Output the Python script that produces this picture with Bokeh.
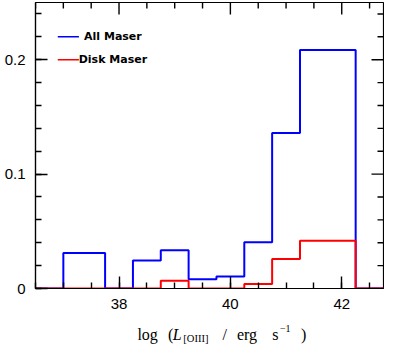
import numpy as np
from bokeh.plotting import figure
from bokeh.layouts import column
from bokeh.models import FixedTicker, Label, Range1d
from bokeh.core.properties import value
from bokeh.embed import file_html
from bokeh.resources import INLINE

# ---- data ----
bin_edges = [36.5, 37.0, 37.75, 38.25, 38.75, 39.25, 39.75, 40.25, 40.75, 41.25, 42.25, 42.75]
all_maser = [0.0, 0.031, 0.0, 0.0245, 0.0335, 0.008, 0.0105, 0.0405, 0.136, 0.2085, 0.0]
disk_maser = [0.0, 0.0, 0.0, 0.0, 0.0067, 0.0, 0.0, 0.004, 0.0258, 0.0417, 0.0]
x_major = [38, 40, 42]
y_major = [0, 0.1, 0.2]
x_tick_labels = ["38", "40", "42"]
y_tick_labels = ["0", "0.1", "0.2"]
legend_names = ["All Maser", "Disk Maser"]
legend_colors = ["#0000ff", "#ff0000"]
legend_levels = [0.22, 0.20]

X0, X1 = 36.5, 42.75
Y0, Y1 = 0.0, 0.25

W = 384
MAIN_H = 318
SUB_H = 26
BL, BR, BT, BB = 35, 1, 2, 30
FRAME_W = W - BL - BR
FRAME_H = MAIN_H - BT - BB

x_range = Range1d(X0, X1)

p = figure(width=W, height=MAIN_H, output_backend="svg", toolbar_location=None,
           x_range=x_range, y_range=Range1d(Y0, Y1),
           min_border_left=BL, min_border_right=BR, min_border_top=BT, min_border_bottom=BB)
p.xgrid.visible = False
p.ygrid.visible = False
p.outline_line_color = "black"
p.outline_line_width = 1.2
p.background_fill_color = "white"
p.border_fill_color = "white"

x_minor = [float(v) for v in np.arange(36.5, 43.0, 0.5)]
y_minor = [float(v) for v in np.arange(0.0, 0.26, 0.02)]
xt = FixedTicker(ticks=x_major, minor_ticks=x_minor)
yt = FixedTicker(ticks=y_major, minor_ticks=y_minor)

for ax, tk, majors, labs in ((p.xaxis[0], xt, x_major, x_tick_labels),
                             (p.yaxis[0], yt, y_major, y_tick_labels)):
    ax.ticker = tk
    ax.major_label_overrides = {v: s for v, s in zip(majors, labs)}
    ax.axis_line_color = "black"
    ax.axis_line_width = 1.2
    ax.major_tick_line_color = "black"
    ax.minor_tick_line_color = "black"
    ax.major_tick_line_width = 1.4
    ax.minor_tick_line_width = 1.4
    ax.major_tick_in = 12
    ax.major_tick_out = 0
    ax.minor_tick_in = 6
    ax.minor_tick_out = 0
    ax.major_label_text_font = "Liberation Sans"
    ax.major_label_text_font_size = "15px"
    ax.major_label_text_color = "black"
    ax.major_label_standoff = 10

# ticks on the top and right frame edges (inward), as short segments
dy_major = 12 * (Y1 - Y0) / FRAME_H
dy_minor = 6 * (Y1 - Y0) / FRAME_H
dx_major = 12 * (X1 - X0) / FRAME_W
dx_minor = 6 * (X1 - X0) / FRAME_W
top_minor = [t for t in x_minor if t not in x_major]
right_minor = [t for t in y_minor if not any(abs(t - m) < 1e-9 for m in y_major)]
tick_kw = dict(line_color="black", line_width=1.4)
p.segment(x0=x_major, x1=x_major, y0=[Y1 - dy_major] * len(x_major),
          y1=[Y1] * len(x_major), **tick_kw)
p.segment(x0=top_minor, x1=top_minor, y0=[Y1 - dy_minor] * len(top_minor),
          y1=[Y1] * len(top_minor), **tick_kw)
p.segment(x0=[X1 - dx_major] * len(y_major), x1=[X1] * len(y_major),
          y0=y_major, y1=y_major, **tick_kw)
p.segment(x0=[X1 - dx_minor] * len(right_minor), x1=[X1] * len(right_minor),
          y0=right_minor, y1=right_minor, **tick_kw)

# histograms
p.step(x=bin_edges, y=all_maser + [all_maser[-1]], mode="after",
       line_color=legend_colors[0], line_width=2)
p.step(x=bin_edges, y=disk_maser + [disk_maser[-1]], mode="after",
       line_color=legend_colors[1], line_width=2)

# legend
p.segment(x0=[36.9, 36.9], x1=[37.28, 37.28], y0=legend_levels, y1=legend_levels,
          line_color=legend_colors, line_width=1.5)
for name, lv in zip(legend_names, legend_levels):
    p.add_layout(Label(x=37.89, y=lv, text=name, text_align="center",
                       text_baseline="middle", text_font="DejaVu Sans",
                       text_font_style="bold", text_font_size="11px",
                       text_color="black"))

# ---- axis title strip (shares the x range so it lines up) ----
q = figure(width=W, height=SUB_H, output_backend="svg", toolbar_location=None,
           x_range=x_range, y_range=Range1d(0, SUB_H),
           x_axis_type=None, y_axis_type=None,
           min_border_left=BL, min_border_right=BR, min_border_top=0, min_border_bottom=0)
q.xgrid.visible = False
q.ygrid.visible = False
q.outline_line_color = None
q.background_fill_color = "white"
q.border_fill_color = "white"

def px2x(px):
    return X0 + (px - 36.5) / 58.2

base = 10
pieces = [
    ("log", 143, base, "normal", "16px"),
    ("(", 175, base, "normal", "16px"),
    ("L", 180, base, "italic", "16px"),
    ("[OIII]", 191, base - 3.5, "normal", "10.5px"),
    ("/", 232, base, "normal", "16px"),
    ("erg", 247, base, "normal", "16px"),
    ("s", 284, base, "normal", "16px"),
    ("\u22121", 292, base + 6, "normal", "10px"),
    (")", 314, base, "normal", "16px"),
]
for txt, px, yy, st, sz in pieces:
    q.text(x=[px2x(px)], y=[yy], text=[txt], text_align="left",
           text_baseline="alphabetic", text_font=value("Liberation Serif"),
           text_font_style=st, text_font_size=sz, text_color="black")

layout = column(p, q, spacing=0)
open("out.html", "w").write(file_html(layout, INLINE))
